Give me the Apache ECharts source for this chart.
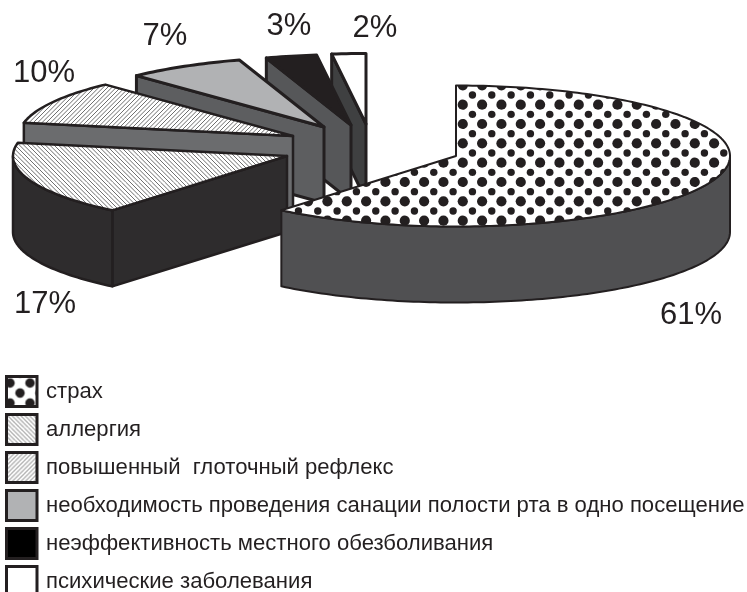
<!DOCTYPE html>
<html><head><meta charset="utf-8">
<style>html,body{margin:0;padding:0;background:#fff;overflow:hidden}#c{width:747px;height:592px}</style>
<script src="https://cdn.jsdelivr.net/npm/echarts@6/dist/echarts.min.js"></script>
</head><body><div id="c"></div>
<script>
// Data
const categories = ['страх','аллергия','повышенный  глоточный рефлекс','необходимость проведения санации полости рта в одно посещение','неэффективность местного обезболивания','психические заболевания'];
const shares = [61,17,10,7,3,2];

// Layout of the exploded pie (apex of every slice)
const apexX = [456,287,293,324,351,366];
const apexY = [156,156,136,127,125,124];
const labelX = [691,45,44,165,289,375];
const labelY = [315,304,73,36,26,28];
const RX = 274, RY = 70.5, DEPTH = 76;
const INK = '#231f20';
const wallColors = ['#505052','#2e2c2d','#6b6c6e','#5d5e60','#565759','#3f4041'];
const edgeWidths = [2,2.5,2.5,3,3,3];

function tile(w,h,draw){const c=document.createElement('canvas');c.width=w;c.height=h;const g=c.getContext('2d');g.fillStyle='#fff';g.fillRect(0,0,w,h);draw(g);return {type:'pattern',image:c,repeat:'repeat'};}
function disc(g,x,y,r,w,h){g.fillStyle=INK;for(const dx of [-w,0,w])for(const dy of [-h,0,h]){g.beginPath();g.arc(x+dx,y+dy,r,0,7);g.fill();}}
function hatch(dir,size,lines,width){return tile(size,size,g=>{g.strokeStyle='#6e6e6e';g.lineWidth=width;const s=size/lines;for(let k=-lines;k<=lines;k++){g.beginPath();if(dir>0){g.moveTo(k*s,size);g.lineTo(k*s+size,0);}else{g.moveTo(k*s,0);g.lineTo(k*s+size,size);}g.stroke();}});}
const dotsTop = tile(58,58,g=>{for(let i=0;i<3;i++)for(let j=0;j<3;j++){const x=(18.1+i*58/3)%58,y=(8+j*58/3)%58;disc(g,x,y,5.1,58,58);disc(g,(x+9.67)%58,(y+9.67)%58,3.7,58,58);}});
const dotsKey = tile(20,20,g=>{disc(g,3.5,6.5,4.7,20,20);disc(g,13.5,16.5,4.7,20,20);});
const hatchA = hatch(-1,13,3,1), hatchB = hatch(1,13,3,1);
const topFills = [dotsTop,hatchA,hatchB,'#b1b2b4',INK,'#fff'];
const keyFills = [dotsKey,hatchA,hatchB,'#b1b2b4','#000','#fff'];

const total = shares.reduce((a,b)=>a+b,0);
const startAngle = shares.map((_,i)=>shares.slice(0,i).reduce((a,b)=>a+b,0)/total*Math.PI*2);

function rim(i,t,drop){return [apexX[i]+RX*Math.sin(t),apexY[i]-RY*Math.cos(t)+drop];}
function arc(i,a,b,drop){const n=Math.max(2,Math.ceil((b-a)/0.02));const p=[];for(let k=0;k<=n;k++)p.push(rim(i,a+(b-a)*k/n,drop));return p;}

function slice(i,value){
  const t0=startAngle[i], t1=t0+value/total*Math.PI*2;
  const kids=[];
  const face={stroke:INK,lineWidth:edgeWidths[i],lineJoin:'round'};
  if(Math.sin(t0)<-1e-6){
    const r0=rim(i,t0,0),r1=rim(i,t0,DEPTH);
    kids.push({type:'polygon',shape:{points:[[apexX[i],apexY[i]],r0,r1,[apexX[i],apexY[i]+DEPTH]]},style:{fill:wallColors[i],...face}});
  }
  const a=Math.max(t0,Math.PI/2), b=Math.min(t1,Math.PI*1.5);
  if(b>a){
    kids.push({type:'polygon',shape:{points:arc(i,a,b,0).concat(arc(i,a,b,DEPTH).reverse())},style:{fill:wallColors[i],...face}});
  }
  kids.push({type:'polygon',shape:{points:[[apexX[i],apexY[i]]].concat(arc(i,t0,t1,0))},style:{fill:topFills[i],...face}});
  kids.push({type:'text',style:{text:value+'%',x:labelX[i],y:labelY[i],align:'center',verticalAlign:'middle',font:'31px "Liberation Sans"',fill:INK}});
  return {type:'group',children:kids};
}

const order=[5,4,3,2,1,0];
const chart=echarts.init(document.getElementById('c'),null,{renderer:'canvas'});
chart.setOption({
  animation:false,
  backgroundColor:'#fff',
  legend:{
    orient:'vertical',left:5,top:375,height:320,itemWidth:30.5,itemHeight:30,itemGap:5,icon:'rect',selectedMode:false,
    padding:0,
    textStyle:{fontFamily:'Liberation Sans',fontSize:22.1,color:INK,padding:[0,0,0,4]},
    data:categories.map((name,i)=>({name,itemStyle:{color:keyFills[i],borderColor:INK,borderWidth:3}}))
  },
  series:order.map(i=>({
    type:'custom',name:categories[i],coordinateSystem:'none',silent:true,
    itemStyle:{color:keyFills[i]},
    data:[{value:shares[i],name:categories[i]}],
    renderItem:(p,api)=>slice(i,api.value(0))
  }))
});
</script></body></html>
